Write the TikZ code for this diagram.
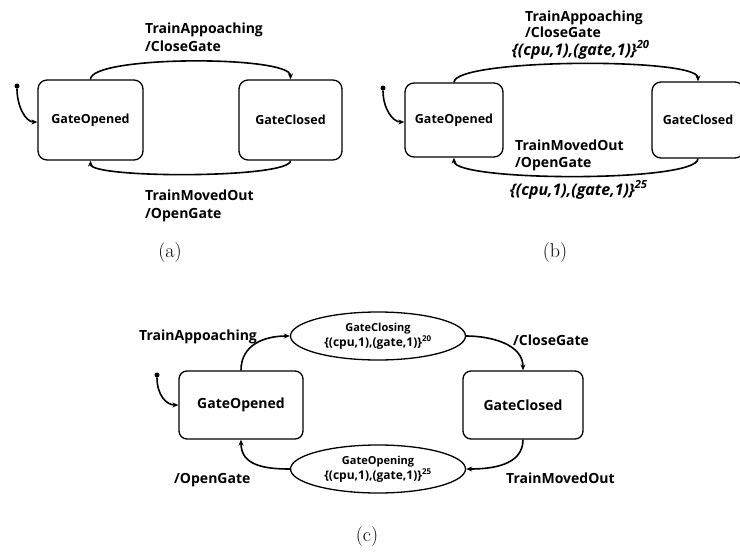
\documentclass[tikz,border=0pt]{standalone}
\usepackage{fontspec}
\newfontfamily\lab{Open Sans}
\usetikzlibrary{shapes.geometric,arrows.meta}
\tikzset{
  state/.style={draw, rounded corners=9pt, line width=1.3pt, inner sep=0pt,
    font=\lab\bfseries\fontsize{12.5}{14}\selectfont},
  bigstate/.style={state, font=\lab\bfseries\fontsize{14}{16}\selectfont},
  actbox/.style={draw, ellipse, line width=1.3pt, inner sep=0pt, align=center,
    minimum width=175pt, minimum height=48pt,
    font=\lab\bfseries\fontsize{11}{15}\selectfont},
  tr/.style={line width=1.6pt, -{Stealth[length=6pt,width=5pt]}},
  lbl/.style={anchor=base west, inner sep=0pt, font=\lab\bfseries\fontsize{14}{16}\selectfont},
  ilbl/.style={lbl, font=\lab\bfseries\itshape\fontsize{16}{18}\selectfont},
  dot/.style={circle, fill, inner sep=0pt, minimum size=5pt},
  captxt/.style={font=\fontsize{20}{24}\selectfont, inner sep=0pt}
}
\begin{document}
\begin{tikzpicture}[x=1pt, y=-1pt]
\useasboundingbox (0,0) rectangle (740,554);
\clip (0,0) rectangle (740,554);
% ---------- (a) ----------
\node[state, minimum width=105pt, minimum height=80pt] (a1) at (90.5,120) {GateOpened};
\node[state, minimum width=103pt, minimum height=80pt] (a2) at (290.5,120) {GateClosed};
\node[dot] (a0) at (17,86) {};
\draw[tr] (a0) .. controls +(0,20) and +(-12,0) .. ([yshift=-2pt]a1.west);
\draw[tr] (a1.north) .. controls +(0,-24) and +(0,-24) .. (a2.north);
\draw[tr] (a2.south) .. controls +(0,18) and +(0,18) .. (a1.south);
\node[lbl] (la1) at (145,34) {TrainAppoaching};
\node[lbl] (la2) at (145,51) {/CloseGate};
\node[lbl] (la3) at (145,200) {TrainMovedOut};
\node[lbl] (la4) at (145,218) {/OpenGate};
\node[captxt] (capa) at (170,253) {(a)};
% ---------- (b) ----------
\node[state, minimum width=98pt, minimum height=74pt] (b1) at (454,120) {GateOpened};
\node[state, minimum width=92pt, minimum height=76pt] (b2) at (698,120) {GateClosed};
\node[dot] (b0) at (383,88) {};
\draw[tr] (b0) .. controls +(0,20) and +(-12,0) .. ([yshift=-2pt]b1.west);
\draw[tr] (b1.north) .. controls +(0,-24) and +(0,-24) .. (b2.north);
\draw[tr] (b2.south) .. controls +(0,24) and +(0,24) .. (b1.south);
\node[lbl] (lb1) at (525,21) {TrainAppoaching};
\node[lbl] (lb2) at (525,37) {/CloseGate};
\node[ilbl] (lb3) at (512,55) {\{(cpu,1),(gate,1)\}\textsuperscript{20}};
\node[lbl] (lb4) at (515,150) {TrainMovedOut};
\node[lbl] (lb5) at (515,167) {/OpenGate};
\node[ilbl] (lb6) at (510,195) {\{(cpu,1),(gate,1)\}\textsuperscript{25}};
\node[captxt] (capb) at (555,253) {(b)};
% ---------- (c) ----------
\node[bigstate, rounded corners=8pt, minimum width=124pt, minimum height=68pt] (c1) at (241,405) {GateOpened};
\node[bigstate, rounded corners=8pt, minimum width=120pt, minimum height=68pt] (c2) at (523,405) {GateClosed};
\node[actbox] (e1) at (378,336) {GateClosing\\{\fontsize{12}{15}\selectfont\{(cpu,1),(gate,1)\}\textsuperscript{20}}};
\node[actbox] (e2) at (378,469) {GateOpening\\{\fontsize{12}{15}\selectfont\{(cpu,1),(gate,1)\}\textsuperscript{25}}};
\node[dot] (c0) at (157,375) {};
\draw[tr] (c0) .. controls +(0,20) and +(-12,0) .. (c1.west);
\draw[tr] (c1.north) .. controls +(0,-26) and +(-25,0) .. (e1.west);
\draw[tr] (e1.east) .. controls +(25,0) and +(0,-26) .. (c2.north);
\draw[tr] (c2.south) .. controls +(0,26) and +(25,0) .. (e2.east);
\draw[tr] (e2.west) .. controls +(-25,0) and +(0,26) .. (c1.south);
\node[lbl] (lc1) at (139,340) {TrainAppoaching};
\node[lbl] (lc2) at (513,345) {/CloseGate};
\node[lbl] (lc3) at (174,483) {/OpenGate};
\node[lbl] (lc4) at (506,483) {TrainMovedOut};
\node[captxt] (capc) at (367,537) {(c)};
\end{tikzpicture}
\end{document}
